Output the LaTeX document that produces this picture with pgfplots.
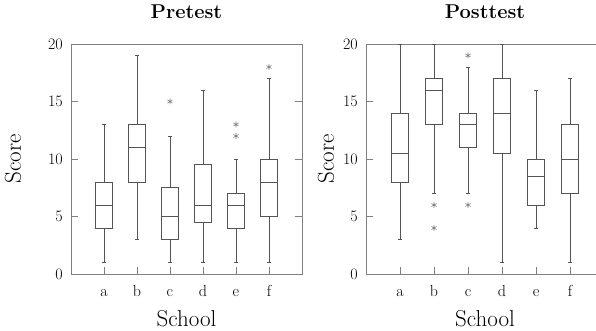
\documentclass[border=0pt]{standalone}
\usepackage{fontspec}
\usepackage{pgfplots}
\pgfplotsset{compat=1.18}
\usepgfplotslibrary{statistics}
\definecolor{boxc}{gray}{0.33}
\definecolor{axc}{gray}{0.5}
\pgfplotsset{
  myaxis/.style={
    scale only axis, height=230pt,
    xmin=0, xmax=7, ymin=0, ymax=20,
    xtick={1,2,3,4,5,6}, xticklabels={a,b,c,d,e,f},
    ytick={0,5,10,15,20},
    tick align=inside, xtick pos=bottom,
    major tick length=7pt,
    axis line style={axc, line width=0.9pt},
    every tick/.style={axc, line width=0.9pt},
    tick label style={font=\fontsize{16}{17}\selectfont, inner sep=0pt},
    xticklabel style={anchor=base, yshift=-23pt},
    yticklabel style={anchor=east, xshift=-8pt},
    label style={font=\fontsize{23}{25}\selectfont},
    title style={font=\fontsize{20}{22}\selectfont\bfseries, at={(axis description cs:0.5,1)}, anchor=base, yshift=19pt},
    xlabel=School, ylabel=Score,
    xlabel style={at={(axis description cs:0.5,-0.228)}, anchor=base},
    /pgf/number format/assume math mode=true,
    boxplot/draw direction=y,
    boxplot/box extend=0.5,
    boxplot/whisker extend=0.12,
    every axis plot/.append style={boxc, line width=0.9pt, mark=asterisk, mark size=3pt, mark options={solid, axc, line width=0.6pt}},
  }
}
\begin{document}
\begin{tikzpicture}[x=1pt,y=1pt]
\begin{axis}[myaxis, at={(71pt,57pt)}, anchor=south west, width=231pt, title=Pretest,
  ylabel style={at={(axis description cs:-0.251,0.5)}, anchor=center, rotate=0}]
\addplot[boxplot prepared={draw position=1, lower whisker=1, lower quartile=4, median=6, upper quartile=8, upper whisker=13}] coordinates {};
\addplot[boxplot prepared={draw position=2, lower whisker=3, lower quartile=8, median=11, upper quartile=13, upper whisker=19}] coordinates {};
\addplot[boxplot prepared={draw position=3, lower whisker=1, lower quartile=3, median=5, upper quartile=7.5, upper whisker=12}] coordinates {(0,15)};
\addplot[boxplot prepared={draw position=4, lower whisker=1, lower quartile=4.5, median=6, upper quartile=9.5, upper whisker=16}] coordinates {};
\addplot[boxplot prepared={draw position=5, lower whisker=1, lower quartile=4, median=6, upper quartile=7, upper whisker=10}] coordinates {(0,12) (0,13)};
\addplot[boxplot prepared={draw position=6, lower whisker=1, lower quartile=5, median=8, upper quartile=10, upper whisker=17}] coordinates {(0,18)};
\end{axis}
\begin{axis}[myaxis, at={(366pt,57pt)}, anchor=south west, width=238pt, title=Posttest,
  ylabel style={at={(axis description cs:-0.168,0.5)}, anchor=center, rotate=0}]
\addplot[boxplot prepared={draw position=1, lower whisker=3, lower quartile=8, median=10.5, upper quartile=14, upper whisker=20}] coordinates {};
\addplot[boxplot prepared={draw position=2, lower whisker=7, lower quartile=13, median=16, upper quartile=17, upper whisker=20}] coordinates {(0,6) (0,4)};
\addplot[boxplot prepared={draw position=3, lower whisker=7, lower quartile=11, median=13, upper quartile=14, upper whisker=18}] coordinates {(0,19) (0,6)};
\addplot[boxplot prepared={draw position=4, lower whisker=1, lower quartile=10.5, median=14, upper quartile=17, upper whisker=20}] coordinates {};
\addplot[boxplot prepared={draw position=5, lower whisker=4, lower quartile=6, median=8.5, upper quartile=10, upper whisker=16}] coordinates {};
\addplot[boxplot prepared={draw position=6, lower whisker=1, lower quartile=7, median=10, upper quartile=13, upper whisker=17}] coordinates {};
\end{axis}
\pgfresetboundingbox
\path[use as bounding box] (0,0) rectangle (596,331);
\end{tikzpicture}
\end{document}
